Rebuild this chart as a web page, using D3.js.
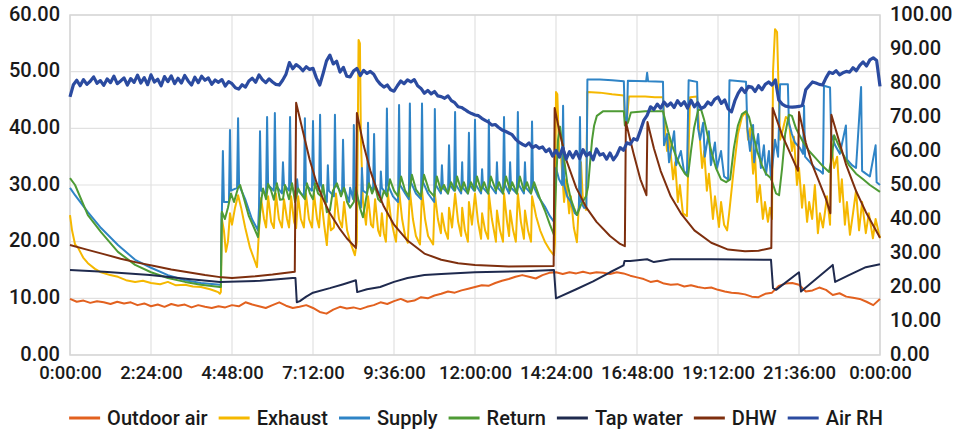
<!DOCTYPE html>
<html>
<head>
<meta charset="utf-8">
<script src="https://cdn.jsdelivr.net/npm/d3@7"></script>
<style>
  html, body { margin: 0; padding: 0; background: #fff; }
  svg { display: block; }
  text { font-family: Roboto, "Noto Sans", sans-serif; fill: #1a1a1a; }
</style>
</head>
<body>
<svg id="chart" width="964" height="433"></svg>
<script>
// ---------- DATA (time in hours, value) ----------
const seriesNames = ["Outdoor air", "Exhaust", "Supply", "Return", "Tap water", "DHW", "Air RH"];
const xTickLabels = ["0:00:00","2:24:00","4:48:00","7:12:00","9:36:00","12:00:00","14:24:00","16:48:00","19:12:00","21:36:00","0:00:00"];
const xTickHours = [0, 2.4, 4.8, 7.2, 9.6, 12, 14.4, 16.8, 19.2, 21.6, 24];
const leftTicks = [0, 10, 20, 30, 40, 50, 60];
const rightTicks = [0, 10, 20, 30, 40, 50, 60, 70, 80, 90, 100];

const outdoorAir = [[0,9.9],[0.2,9.4],[0.4,9.6],[0.6,9.2],[0.8,9.5],[1.0,9.3],[1.2,9.0],[1.4,9.4],[1.6,9.1],[1.8,9.3],[2.0,8.8],[2.2,9.1],[2.4,8.6],[2.6,8.9],[2.8,8.5],[3.0,9.0],[3.2,8.7],[3.4,8.9],[3.6,8.4],[3.8,8.8],[4.0,8.5],[4.2,8.3],[4.4,8.6],[4.6,8.4],[4.8,8.8],[5.0,8.6],[5.2,9.3],[5.4,8.9],[5.6,8.6],[5.8,8.3],[6.0,8.8],[6.2,9.3],[6.4,8.7],[6.6,8.3],[6.8,8.5],[7.0,8.8],[7.2,8.3],[7.4,7.6],[7.6,7.3],[7.8,8.0],[8.0,8.5],[8.2,8.2],[8.4,8.4],[8.6,8.1],[8.8,8.5],[9.0,8.8],[9.2,9.3],[9.4,9.0],[9.6,9.5],[9.8,9.9],[10.0,9.4],[10.2,9.6],[10.4,10.2],[10.6,10.0],[10.8,10.5],[11.0,10.8],[11.2,11.2],[11.4,11.0],[11.6,11.4],[11.8,11.7],[12.0,12.0],[12.2,12.3],[12.4,12.2],[12.6,12.7],[12.8,13.1],[13.0,13.4],[13.2,13.8],[13.4,14.1],[13.6,13.8],[13.8,13.5],[14.0,14.1],[14.2,14.5],[14.4,14.6],[14.6,14.3],[14.8,14.6],[15.0,14.4],[15.2,14.7],[15.4,14.4],[15.6,14.6],[15.8,14.5],[16.0,14.3],[16.2,14.6],[16.4,14.4],[16.6,14.0],[16.8,13.7],[17.0,13.4],[17.2,12.9],[17.4,13.1],[17.6,12.6],[17.8,12.4],[18.0,12.5],[18.2,12.1],[18.4,12.3],[18.6,12.0],[18.8,11.8],[19.0,11.9],[19.2,11.5],[19.4,11.2],[19.6,11.0],[19.8,10.9],[20.0,10.7],[20.2,10.3],[20.4,10.2],[20.6,10.8],[20.8,11.0],[21.0,12.2],[21.2,12.6],[21.4,12.7],[21.6,12.4],[21.8,11.2],[22.0,11.4],[22.2,11.9],[22.4,11.5],[22.6,10.6],[22.8,10.9],[23.0,10.3],[23.2,10.1],[23.4,9.9],[23.6,9.4],[23.8,8.8],[24.0,9.9]];

const exhaust = [[0,24.7],[0.06,22],[0.15,19.5],[0.24,18.9],[0.39,17.2],[0.53,16.2],[0.74,15.2],[0.92,14.6],[1.19,14.1],[1.42,13.8],[1.66,13.2],[1.93,12.9],[2.16,13.1],[2.40,12.7],[2.67,12.5],[2.90,12.9],[3.14,12.3],[3.41,12.4],[3.64,12.1],[3.88,12.0],[4.15,11.6],[4.30,11.3],[4.39,11.1],[4.44,10.8],
[4.47,11.1],[4.50,24],[4.56,22],[4.62,18.2],[4.68,20],[4.74,25],[4.80,23],[4.89,26],[4.98,28.2],[5.07,26],[5.19,22.5],[5.33,19],[5.48,16.5],[5.54,15.5],[5.60,22],[5.66,27.7],[5.75,24],[5.81,22.5],[5.87,28],[5.96,23.5],[6.04,22.4],[6.10,28.5],[6.19,24],[6.28,22.5],[6.34,27.5],[6.43,24],[6.49,22.5],[6.55,28],[6.64,23.5],[6.70,22.4],[6.76,28],[6.84,24],[6.93,22.5],[6.99,28.5],[7.08,24],[7.17,22.5],[7.23,28.5],[7.32,24],[7.38,22.5],[7.44,28],[7.53,23],[7.61,19.4],[7.67,25],[7.73,22],[7.82,22.5],[7.88,28.5],[7.97,24],[8.06,22.5],[8.12,27],[8.21,22],[8.30,20],[8.36,19],[8.44,17.6],[8.50,20],[8.55,55.6],[8.59,55],[8.62,38],[8.68,27],[8.77,23],[8.83,28],[8.92,23],[8.98,22.5],[9.04,27.5],[9.13,22],[9.19,21],[9.24,25],[9.30,21.5],[9.36,20],[9.42,28.5],[9.51,24],[9.60,21.5],[9.66,20],[9.75,29],[9.84,24],[9.93,21],[10.01,19.8],[10.07,29],[10.16,24],[10.25,21],[10.37,19.5],[10.43,29],[10.52,24],[10.61,21],[10.76,19.5],[10.81,28.5],[10.90,24],[10.99,21.5],[11.02,25],[11.11,22],[11.20,20.5],[11.23,26],[11.32,22.5],[11.41,28.5],[11.50,23.5],[11.59,21],[11.62,26],[11.70,22],[11.79,20],[11.82,27],[11.91,23],[12.00,28.5],[12.09,23.5],[12.18,20.5],[12.21,25],[12.30,22],[12.39,20.5],[12.41,28.5],[12.50,24],[12.62,20],[12.65,25.5],[12.74,22],[12.83,20],[12.86,28.5],[12.95,23.5],[13.01,21],[13.04,25.5],[13.13,22],[13.21,20],[13.27,28.5],[13.36,23.5],[13.45,20.5],[13.48,25.5],[13.57,22],[13.66,20],[13.69,28],[13.81,24.5],[13.93,22],[14.07,20],[14.22,18.5],[14.34,17.6],
[14.37,20],[14.40,46.4],[14.44,46],[14.49,36],[14.55,35],[14.64,27],[14.70,31],[14.79,25],[14.84,28],[14.93,22.4],[15.02,19.9],[15.08,27],[15.14,34],[15.20,27],[15.29,25.6],[15.33,46.4],[15.70,46.3],[16.06,46.0],[16.41,45.8],[16.44,42],[16.50,41.5],[16.56,45.6],[17.04,45.6],[17.33,45.5],[17.57,45.5],
[17.60,42],[17.69,36],[17.75,38.5],[17.87,31],[17.93,34],[18.01,27],[18.07,30],[18.16,25],[18.28,24.5],[18.37,45.5],[18.58,45.6],[18.64,40],[18.73,33],[18.79,36],[18.87,29],[18.93,32],[19.05,24],[19.11,28],[19.23,22.6],[19.29,27],[19.38,23],[19.47,22],[19.53,25],[19.67,33],[19.79,39],[19.91,42],[20.03,43],[20.09,38],[20.15,40],[20.24,32],[20.30,35],[20.36,27],[20.44,30],[20.53,24],[20.59,27],[20.68,23.5],[20.74,26],[20.80,24],[20.83,50],[20.89,57.5],[20.95,57],[20.99,48],[21.04,38],[21.13,40],[21.21,42],[21.30,41.5],[21.39,36],[21.45,38.5],[21.54,30],[21.60,33],[21.69,26],[21.75,30],[21.84,23.5],[21.90,27],[21.99,24],[22.07,30],[22.16,21.5],[22.22,25],[22.31,22.5],[22.43,28],[22.52,23],[22.55,37.6],[22.64,33],[22.73,35],[22.81,27],[22.87,31],[22.96,23],[23.02,27],[23.11,21.2],[23.20,25],[23.29,29],[23.38,22],[23.47,27],[23.58,21.5],[23.67,25],[23.79,20.6],[23.87,24],[24,20.6]];

const supply = [[0,29.5],[0.15,28.2],[0.53,25.2],[0.92,22.4],[1.42,19.4],[1.93,16.8],[2.40,15.4],[2.90,14.1],[3.41,13.2],[3.88,12.7],[4.44,12.4],
[4.47,12.4],[4.49,25],[4.50,25],[4.53,36],[4.56,27],[4.71,27],[4.74,39.7],[4.77,29],[4.95,29.5],[4.98,41.8],[5.01,30],[5.19,27.5],[5.39,24],[5.57,22],[5.60,26],[5.63,39.5],[5.66,29],[5.81,28.5],[5.84,42],[5.87,30],[6.04,29],[6.07,42.7],[6.10,30],[6.28,28.5],[6.31,34],[6.34,30],[6.49,29],[6.52,42],[6.55,30],[6.70,28],[6.73,31],[6.76,29],[6.93,28],[6.96,41.8],[6.99,30],[7.17,29],[7.20,41.3],[7.23,30],[7.38,29],[7.41,42.4],[7.44,30],[7.61,27],[7.64,33.5],[7.67,29],[7.82,28],[7.85,42.4],[7.88,30],[8.06,28.5],[8.09,38],[8.12,29.5],[8.27,27],[8.30,29.5],[8.39,27.5],[8.41,40.6],[8.44,29],[8.62,26],[8.65,33],[8.68,29],[8.80,28.5],[8.83,41],[8.86,30],[8.98,29],[9.01,39],[9.04,30],[9.19,28],[9.21,32.4],[9.24,29.5],[9.36,28.5],[9.39,43.5],[9.42,30],[9.57,28],[9.72,27],[9.75,44.1],[9.78,30],[9.93,28.5],[10.04,27.5],[10.07,44.4],[10.10,30.5],[10.25,28.5],[10.40,27.5],[10.43,44.4],[10.46,30.5],[10.61,28.5],[10.79,27],[10.81,43.4],[10.84,30],[10.99,28.5],[11.02,33.5],[11.05,29.5],[11.20,28.5],[11.23,37],[11.26,30],[11.38,29],[11.41,42.9],[11.44,30],[11.59,28.5],[11.62,34],[11.64,29.5],[11.79,28.5],[11.82,39.2],[11.85,30],[11.97,29],[12.00,41.5],[12.03,30],[12.18,28.5],[12.21,32.8],[12.24,29.5],[12.39,28.5],[12.41,41.5],[12.44,30],[12.62,28.5],[12.65,34],[12.68,29.5],[12.83,28.5],[12.86,42],[12.89,30],[13.01,28.5],[13.04,34],[13.07,29.5],[13.24,28.5],[13.27,42.9],[13.30,30],[13.45,28.5],[13.48,34],[13.51,29.5],[13.66,28.5],[13.69,41.2],[13.72,30],[13.87,28],[14.07,26.2],[14.22,24.5],[14.34,23.5],
[14.40,33],[14.49,31],[14.58,30],[14.61,44],[14.64,30],[14.73,28],[14.84,27],[14.96,25],[15.02,24.7],[15.08,26],[15.11,42],[15.14,27],[15.23,26],[15.30,26],[15.33,48.6],[15.70,48.6],[16.06,48.5],[16.41,48.3],[16.44,42],[16.50,41],[16.53,48.4],[17.07,48.3],[17.10,49.8],[17.13,48.3],[17.57,48.2],
[17.60,37],[17.69,39],[17.75,34],[17.90,39.5],[17.96,33.5],[18.10,36],[18.19,32.5],[18.28,31.8],[18.33,48.5],[18.58,48.2],[18.61,40],[18.67,38],[18.76,41],[18.81,35],[18.93,39.5],[18.99,33.5],[19.11,37.5],[19.17,33],[19.29,36],[19.38,31.5],[19.50,31],[19.54,48.5],[20.03,48.2],[20.07,40],[20.15,36],[20.24,40.6],[20.27,34],[20.39,39],[20.47,33],[20.56,37],[20.62,31.8],[20.71,36],[20.77,31],[20.89,38],[20.98,35],[21.04,47.8],[21.27,47.8],[21.30,41],[21.39,39],[21.48,37.5],[21.63,36.5],[21.72,35.5],[21.75,44],[21.78,35],[21.93,34],[22.07,33],[22.22,32.5],[22.31,32],[22.34,47.5],[22.52,47.2],[22.55,39],[22.67,37],[22.81,35.5],[22.99,40.5],[23.02,34.5],[23.17,33.5],[23.29,33],[23.44,47.3],[23.47,32.5],[23.58,32],[23.70,31.5],[23.87,37],[23.90,30.5],[24,30]];

const returnT = [[0,31.2],[0.15,30],[0.53,24.7],[0.92,21.7],[1.42,18.2],[1.93,15.9],[2.40,14.6],[2.90,13.6],[3.41,12.9],[3.88,12.4],[4.44,12.0],
[4.47,12.0],[4.50,25.3],[4.59,24],[4.68,26],[4.77,28.5],[4.86,27],[4.98,29.5],[5.04,30],[5.16,27.5],[5.30,24.5],[5.45,22.5],[5.57,20.8],[5.66,27],[5.72,29.4],[5.81,27.5],[5.87,30.2],[5.96,29],[6.04,27.4],[6.13,30.3],[6.22,27.4],[6.31,27.5],[6.37,30],[6.49,27.5],[6.58,30.3],[6.67,27],[6.76,29.4],[6.84,28.5],[6.96,27.5],[7.02,30.3],[7.11,28.5],[7.20,27.5],[7.26,30.3],[7.35,28.5],[7.44,28],[7.50,30],[7.61,25.2],[7.70,25.5],[7.79,29],[7.91,30.3],[8.03,28],[8.12,29.5],[8.21,27],[8.30,26],[8.41,27],[8.47,29.5],[8.59,26],[8.68,24.3],[8.77,27.5],[8.86,30.3],[8.95,28.5],[9.04,29.8],[9.13,27.5],[9.21,27],[9.30,29],[9.39,28],[9.48,31],[9.60,29],[9.72,28],[9.81,31.5],[9.93,29],[10.04,28],[10.13,31.8],[10.25,29.2],[10.40,28],[10.49,31.8],[10.64,29],[10.79,28],[10.87,31.5],[10.99,29],[11.08,30],[11.20,28.5],[11.29,30.5],[11.41,29],[11.47,31.5],[11.59,29],[11.67,30.5],[11.79,28.5],[11.88,30.5],[12.00,29],[12.06,31.5],[12.18,29],[12.27,30.5],[12.39,28.5],[12.47,31.5],[12.62,29],[12.71,30.5],[12.83,28.5],[12.92,31.5],[13.04,29],[13.10,30.5],[13.24,28.5],[13.33,31.5],[13.45,29],[13.54,30.5],[13.66,28.5],[13.75,30.5],[13.93,27.5],[14.07,25.5],[14.22,23],[14.34,21.2],
[14.40,30],[14.46,38],[14.52,40.3],[14.61,36],[14.73,30.5],[14.84,27.5],[14.93,26],[15.02,24.7],[15.14,26.5],[15.29,28],[15.35,29.7],[15.41,34],[15.47,38],[15.53,40.5],[15.61,42.2],[15.79,43],[16.41,43],[16.44,40.5],[16.53,41],[16.62,42.8],[17.04,43],[17.57,43],
[17.72,39.5],[17.84,37],[17.96,35],[18.07,33.5],[18.22,32],[18.31,31.5],[18.40,36],[18.49,40],[18.61,43.2],[18.70,43.3],[18.79,41.5],[18.90,38.5],[19.02,35.5],[19.14,33],[19.29,31],[19.44,30.5],[19.56,31],[19.67,36.5],[19.79,40.5],[19.91,42.5],[20.03,43],[20.12,42],[20.24,39],[20.36,36],[20.50,33.5],[20.62,32],[20.77,31.2],[20.92,28.5],[21.01,28.2],[21.10,33],[21.19,39],[21.30,42.4],[21.39,42.2],[21.51,40],[21.72,37.6],[21.90,36],[22.10,34.7],[22.31,33.3],[22.49,32.3],[22.58,35],[22.64,38.8],[22.81,36.5],[23.08,33.5],[23.29,32],[23.50,31],[23.70,30],[24,28.8]];

const tapWater = [[0,15.0],[1,14.7],[2.37,14.1],[3.5,13.4],[4.44,12.9],[5.63,13.1],[6.6,13.6],[6.68,13.6],[6.72,9.3],[6.81,9.5],[7.0,10.3],[7.2,11.0],[7.7,11.8],[8.1,12.5],[8.47,13.2],[8.51,11.1],[8.8,11.6],[9.19,12.0],[9.6,12.9],[10.0,13.6],[10.5,14.1],[11,14.3],[12,14.6],[13.48,14.8],[14.34,15.0],[14.40,10.0],[15.0,11.6],[15.5,13.0],[16.0,14.6],[16.4,15.8],[16.43,16.6],[16.6,16.6],[17.1,16.9],[17.3,16.4],[17.8,16.9],[19,16.9],[20.77,16.8],[20.83,11.8],[20.92,11.5],[21.6,14.6],[21.66,11.2],[22.6,15.9],[22.67,12.9],[23.08,14.1],[23.58,15.5],[24,16.0]];

const dhw = [[0,19.4],[0.5,18.6],[1,17.8],[1.5,17.0],[2,16.3],[2.5,15.7],[3,15.1],[3.5,14.6],[4,14.1],[4.5,13.7],[4.8,13.6],[5.5,13.9],[6,14.2],[6.66,14.7],[6.70,44.5],[6.9,39.5],[7.1,34.5],[7.3,30.5],[7.5,27.5],[7.7,25.0],[8.0,22.2],[8.2,20.6],[8.47,18.9],[8.50,42.7],[8.7,37],[8.9,32.5],[9.1,29],[9.3,26.2],[9.6,23.0],[10.0,20.2],[10.5,17.9],[11,16.8],[11.5,16.2],[12,15.9],[13,15.6],[14.33,15.7],[14.36,43.6],[14.5,39.5],[14.7,34.5],[15,29.5],[15.3,26],[15.6,23.5],[16.0,21],[16.3,19.6],[16.44,19.2],[16.47,41.1],[16.7,35.5],[16.9,31],[17.08,28.2],[17.11,41.1],[17.3,36.5],[17.5,32.5],[17.8,28],[18.1,25],[18.5,22],[19.0,19.8],[19.5,18.6],[20,18.3],[20.4,18.4],[20.78,18.9],[20.82,43.6],[21.1,38.8],[21.4,34.8],[21.57,32.5],[21.60,42.9],[21.8,37.5],[22.0,33.5],[22.2,30.5],[22.4,27.5],[22.53,25],[22.56,42.4],[22.8,37.5],[23,33.5],[23.3,28.8],[23.6,25],[24,20.7]];

// Air RH, one reading every 0.1 h from 0:00 to 24:00 (right axis, %)
const airRH = [75.9,79.5,80.8,79.2,81.0,79.6,80.5,81.8,79.9,80.7,79.3,
81.2,80.1,82.0,79.8,80.6,81.5,79.4,81.3,80.2,82.3,
80.0,81.6,79.5,82.4,80.3,81.1,79.2,81.9,80.4,82.1,
79.8,81.4,80.0,82.2,80.6,79.4,81.7,80.1,82.0,80.8,
81.5,79.6,80.9,80.2,81.0,79.1,80.4,79.8,78.6,78.2,
79.5,78.8,80.6,81.4,80.2,82.4,81.0,80.1,81.2,80.3,
79.6,79.4,80.8,82.6,86.0,84.2,85.4,84.7,83.6,84.8,
84.0,84.3,81.5,79.4,82.8,86.5,88.2,85.6,86.4,83.2,
84.6,82.0,81.8,83.5,84.3,82.2,83.7,82.8,83.4,82.6,
80.8,79.6,78.8,79.4,78.0,77.6,79.2,80.6,79.8,80.9,
80.3,81.0,79.2,78.4,77.0,77.8,76.8,77.5,76.2,76.0,
75.5,76.2,74.8,74.2,73.0,72.8,72.2,71.5,71.0,70.6,
70.4,69.6,69.0,68.5,67.6,67.8,66.9,66.2,65.8,65.3,
64.8,63.5,62.6,62.0,61.5,62.4,61.0,61.6,60.8,61.2,
59.8,60.6,58.5,60.2,58.2,61.0,57.6,59.8,58.0,59.9,
57.8,60.4,58.6,59.5,57.4,60.6,58.8,59.2,57.6,59.4,
57.4,58.8,61.0,60.2,62.4,62.0,63.6,63.2,66.0,69.0,
70.5,73.0,72.2,73.8,72.6,74.4,73.2,74.1,72.8,74.8,
73.4,74.5,72.6,74.9,73.0,74.2,72.5,73.0,74.4,73.6,
75.2,75.9,74.0,75.0,72.4,71.5,74.8,77.0,78.5,77.2,
79.0,78.8,77.5,79.2,78.0,79.6,80.3,79.4,80.9,75.0,
73.8,73.2,73.0,72.9,73.0,73.1,73.4,78.0,79.2,80.3,
80.0,79.6,79.4,81.5,83.2,82.8,83.6,82.4,83.0,83.4,
83.2,84.5,83.6,85.2,86.2,85.0,86.8,87.4,86.6,79.0];
const airRHStep = 0.1;

const colors = ["#E2611F", "#F5B800", "#2F84C6", "#4E9B35", "#1F2A4E", "#7E2F0E", "#2B4BA0"];

// ---------- CHART ----------
const svg = d3.select("#chart");
const W = 964, H = 433;
const m = { left: 70, right: 84, top: 15, bottom: 78 };
const x = d3.scaleLinear().domain([0, 24]).range([m.left, W - m.right]);
const yL = d3.scaleLinear().domain([0, 60]).range([H - m.bottom, m.top]);
const yR = d3.scaleLinear().domain([0, 100]).range([H - m.bottom, m.top]);

// grid
const grid = svg.append("g");
grid.selectAll("line.h").data(leftTicks).join("line")
  .attr("x1", x(0)).attr("x2", x(24)).attr("y1", d => yL(d)).attr("y2", d => yL(d))
  .attr("stroke", "#e1e1e1").attr("stroke-width", 1.2);
grid.selectAll("line.v").data(xTickHours).join("line")
  .attr("x1", d => x(d)).attr("x2", d => x(d)).attr("y1", yL(0)).attr("y2", yL(60))
  .attr("stroke", "#e1e1e1").attr("stroke-width", 1.2);
grid.append("rect").attr("x", x(0)).attr("y", yL(60)).attr("width", x(24) - x(0)).attr("height", yL(0) - yL(60))
  .attr("fill", "none").attr("stroke", "#d6d6d6").attr("stroke-width", 1.5);

// axes
const fmt = d3.format(".2f");
const axL = svg.append("g").attr("transform", `translate(${x(0)},0)`)
  .call(d3.axisLeft(yL).tickValues(leftTicks).tickFormat(fmt).tickSize(0).tickPadding(10));
const axR = svg.append("g").attr("transform", `translate(${x(24)},0)`)
  .call(d3.axisRight(yR).tickValues(rightTicks).tickFormat(fmt).tickSize(0).tickPadding(10));
const axB = svg.append("g").attr("transform", `translate(0,${yL(0)})`)
  .call(d3.axisBottom(x).tickValues(xTickHours).tickFormat((d, i) => xTickLabels[i]).tickSize(0).tickPadding(11));
[axL, axR, axB].forEach(a => {
  a.select(".domain").remove();
  a.selectAll("text").attr("fill", "#1a1a1a").style("font-family", "Roboto, sans-serif").style("font-weight", "500");
});
axL.selectAll("text").style("font-size", "20px").attr("dy", "0.26em");
axR.selectAll("text").style("font-size", "20px").attr("dy", "0.26em");
axB.selectAll("text").style("font-size", "18.5px");

// lines
const lineL = d3.line().x(d => x(d[0])).y(d => yL(d[1]));
const lineR = d3.line().x((d, i) => x(i * airRHStep)).y(d => yR(d));
const plot = svg.append("g");
const leftSeries = [outdoorAir, exhaust, supply, returnT, tapWater, dhw];
leftSeries.forEach((s, i) => {
  plot.append("path").datum(s).attr("d", lineL).attr("fill", "none")
    .attr("stroke", colors[i]).attr("stroke-width", 2).attr("stroke-linejoin", "round");
});
plot.append("path").datum(airRH).attr("d", lineR).attr("fill", "none")
  .attr("stroke", colors[6]).attr("stroke-width", 3.2).attr("stroke-linejoin", "round");

// legend
const leg = svg.append("g");
let cx = 0;
seriesNames.forEach((n, i) => {
  const g = leg.append("g");
  g.append("line").attr("x1", 0).attr("x2", 31).attr("y1", 0).attr("y2", 0)
    .attr("stroke", colors[i]).attr("stroke-width", 3);
  const t = g.append("text").attr("x", 38).attr("y", 0).attr("dy", "0.35em")
    .style("font-size", "20px").style("font-weight", "500").text(n);
  const w = 38 + t.node().getComputedTextLength();
  g.attr("transform", `translate(${cx},0)`);
  cx += w + 11;
});
const totalW = cx - 11;
leg.attr("transform", `translate(${(62 + 890) / 2 - totalW / 2},418)`);
</script>
</body>
</html>
